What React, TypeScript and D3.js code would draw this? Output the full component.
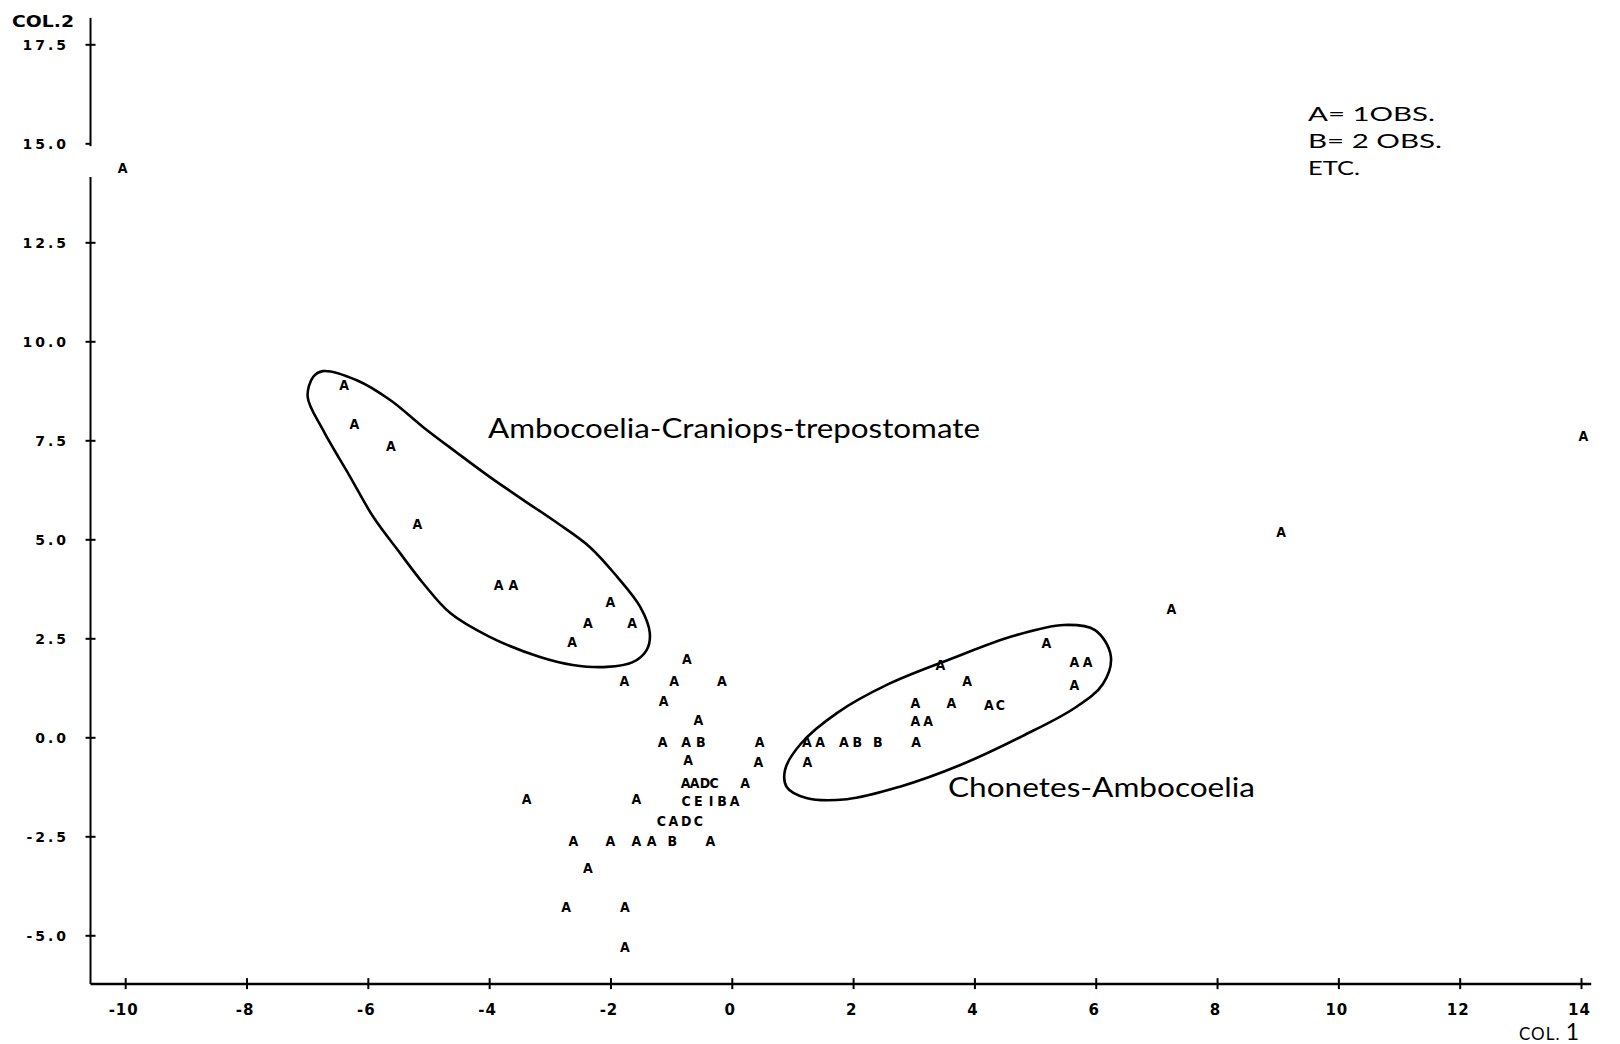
import React from "react";
import * as d3 from "d3";

const xTicks = [-10, -8, -6, -4, -2, 0, 2, 4, 6, 8, 10, 12, 14];
const xTickLabels = ["-10", "-8", "-6", "-4", "-2", "0", "2", "4", "6", "8", "10", "12", "14"];
const yTicks = [17.5, 15, 12.5, 10, 7.5, 5, 2.5, 0, -2.5, -5];
const yTickLabels = ["17.5", "15.0", "12.5", "10.0", "7.5", "5.0", "2.5", "0.0", "-2.5", "-5.0"];

// observations (line-printer symbols: A = 1 obs, B = 2 obs, etc.)
const pointX = [
  -10.05, 14.03, 9.05, 7.24,
  -6.4, -6.23, -5.63, -5.19, -3.85, -3.61, -2.01, -2.38, -1.65, -2.64,
  -0.75, -1.78, -0.96, -0.17, -1.13, -0.56, -1.15, -0.76, -0.52, 0.45, -0.73, 0.43,
  -0.77, -0.62, -0.45, -0.3, 0.21,
  -0.76, -0.56, -0.35, -0.17, 0.04,
  -1.17, -0.97, -0.76, -0.56,
  -3.39, -1.58,
  -2.62, -2.01, -1.58, -1.33, -0.99, -0.36,
  -2.38, -2.74, -1.77, -1.77,
  1.23, 1.45, 1.84, 2.06, 2.4, 3.03, 1.24, 3.02, 3.23, 3.02, 3.61, 4.23, 4.42, 3.87, 3.43, 5.18, 5.64, 5.86, 5.64,
];
const pointY = [
  14.38, 7.62, 5.19, 3.26,
  8.9, 7.93, 7.36, 5.4, 3.86, 3.86, 3.42, 2.9, 2.9, 2.43,
  1.98, 1.44, 1.44, 1.44, 0.94, 0.45, -0.1, -0.1, -0.1, -0.1, -0.55, -0.6,
  -1.15, -1.15, -1.15, -1.15, -1.15,
  -1.6, -1.6, -1.6, -1.6, -1.6,
  -2.11, -2.11, -2.11, -2.11,
  -1.54, -1.54,
  -2.61, -2.61, -2.61, -2.61, -2.61, -2.61,
  -3.29, -4.28, -4.28, -5.27,
  -0.1, -0.1, -0.1, -0.1, -0.1, -0.1, -0.6, 0.42, 0.42, 0.89, 0.89, 0.84, 0.84, 1.44, 1.85, 2.4, 1.91, 1.91, 1.33,
];
const pointLabel = [
  "A", "A", "A", "A",
  "A", "A", "A", "A", "A", "A", "A", "A", "A", "A",
  "A", "A", "A", "A", "A", "A", "A", "A", "B", "A", "A", "A",
  "A", "A", "D", "C", "A",
  "C", "E", "I", "B", "A",
  "C", "A", "D", "C",
  "A", "A",
  "A", "A", "A", "A", "B", "A",
  "A", "A", "A", "A",
  "A", "A", "A", "B", "B", "A", "A", "A", "A", "A", "A", "A", "C", "A", "A", "A", "A", "A", "A",
];

// hand-drawn group outlines (data units)
const outline1X = [-6.91, -6.75, -6.19, -5.64, -5.1, -4.54, -4.0, -3.45, -2.89, -2.35, -1.9, -1.52, -1.36, -1.41, -1.64, -2.07, -2.63, -3.17, -4.0, -4.65, -5.1, -5.48, -5.92, -6.3, -6.75, -7.0];
const outline1Y = [9.11, 9.26, 9.03, 8.53, 7.85, 7.2, 6.59, 6.01, 5.43, 4.82, 4.07, 3.31, 2.65, 2.22, 1.91, 1.79, 1.84, 2.04, 2.55, 3.15, 3.91, 4.67, 5.58, 6.59, 7.78, 8.61];
const outline2X = [0.87, 1.13, 1.73, 2.58, 3.6, 4.63, 5.47, 5.98, 6.24, 6.11, 5.65, 4.79, 3.77, 2.75, 1.89, 1.22, 0.9];
const outline2Y = [-0.81, -0.15, 0.63, 1.36, 1.99, 2.57, 2.85, 2.72, 2.07, 1.36, 0.76, 0.05, -0.68, -1.24, -1.55, -1.52, -1.25];

const groupLabels = ["Ambocoelia-Craniops-trepostomate", "Chonetes-Ambocoelia"];
const legendLines = ["A=  1OBS.", "B=  2 OBS.", "ETC."];
const legendWidths = [127, 134, 52];

const W = 1620;
const H = 1044;

export default function App() {
  const x = d3.scaleLinear().domain([-10, 14]).range([125.7, 1581.5]);
  const y = d3.scaleLinear().domain([-5, 17.5]).range([935.8, 44.8]);

  const axisX = x(-10.58);
  const axisY = y(-6.22);
  const yTop = y(18.18);
  const xRight = x(14.16);
  const gapTop = y(14.94);
  const gapBottom = y(14.16);

  const line = d3
    .line<[number, number]>()
    .x((d) => x(d[0]))
    .y((d) => y(d[1]))
    .curve(d3.curveCatmullRomClosed.alpha(0.5));

  const o1 = outline1X.map((v, i) => [v, outline1Y[i]] as [number, number]);
  const o2 = outline2X.map((v, i) => [v, outline2Y[i]] as [number, number]);

  const tickFont = "'DejaVu Sans', sans-serif";
  const pointFont = "'DejaVu Sans Condensed', 'DejaVu Sans', sans-serif";

  return (
    <div style={{ position: "absolute", left: 0, top: 0, width: W, height: H, background: "#fff" }}>
      <svg width={W} height={H} viewBox={`0 0 ${W} ${H}`} style={{ display: "block" }}>
        <rect width={W} height={H} fill="#fff" />
        {/* y axis with break */}
        <line x1={axisX} x2={axisX} y1={yTop} y2={gapTop} stroke="#000" strokeWidth={2} />
        <line x1={axisX} x2={axisX} y1={gapBottom} y2={axisY} stroke="#000" strokeWidth={2} />
        {/* x axis */}
        <line x1={axisX} x2={xRight} y1={axisY} y2={axisY} stroke="#000" strokeWidth={2.5} />

        {yTicks.map((t, i) => (
          <g key={"yt" + i}>
            <line x1={axisX - 5} x2={axisX + (t === 15 ? 0 : 5)} y1={y(t)} y2={y(t)} stroke="#000" strokeWidth={2} />
            <text
              x={69}
              y={y(t)}
              dy="0.36em"
              textAnchor="end"
              fontFamily={tickFont}
              fontWeight="bold"
              fontSize={14}
              letterSpacing={3}
            >
              {yTickLabels[i]}
            </text>
          </g>
        ))}

        {xTicks.map((t, i) => (
          <g key={"xt" + i}>
            <line x1={x(t)} x2={x(t)} y1={axisY - 6} y2={axisY + 5} stroke="#000" strokeWidth={2} />
            <text
              x={x(t) - 2}
              y={1015}
              textAnchor="middle"
              fontFamily={tickFont}
              fontWeight="bold"
              fontSize={15}
              letterSpacing={1}
            >
              {xTickLabels[i]}
            </text>
          </g>
        ))}

        <text x={12} y={27} fontFamily={tickFont} fontWeight="bold" fontSize={15} textLength={62} lengthAdjust="spacingAndGlyphs">
          COL.2
        </text>
        <text x={1519} y={1040} fontFamily="Lato, sans-serif" fontSize={17} letterSpacing={1}>
          COL. <tspan fontSize={23}>1</tspan>
        </text>

        <path d={line(o1) || ""} fill="none" stroke="#000" strokeWidth={2.6} />
        <path d={line(o2) || ""} fill="none" stroke="#000" strokeWidth={2.6} />

        {pointX.map((px, i) => (
          <text
            key={"p" + i}
            x={x(px)}
            y={y(pointY[i])}
            dy="0.36em"
            textAnchor="middle"
            fontFamily={pointFont}
            fontWeight="bold"
            fontSize={14}
          >
            {pointLabel[i]}
          </text>
        ))}

        <text x={488} y={438} fontFamily="Lato, sans-serif" fontSize={27} textLength={492} lengthAdjust="spacingAndGlyphs">
          {groupLabels[0]}
        </text>
        <text x={948} y={797} fontFamily="Lato, sans-serif" fontSize={27} textLength={307} lengthAdjust="spacingAndGlyphs">
          {groupLabels[1]}
        </text>

        {legendLines.map((s, i) => (
          <text
            key={"lg" + i}
            x={1308}
            y={121 + i * 27}
            fontFamily="Lato, sans-serif"
            fontSize={19}
            textLength={legendWidths[i]}
            lengthAdjust="spacingAndGlyphs"
          >
            {s}
          </text>
        ))}
      </svg>
    </div>
  );
}
